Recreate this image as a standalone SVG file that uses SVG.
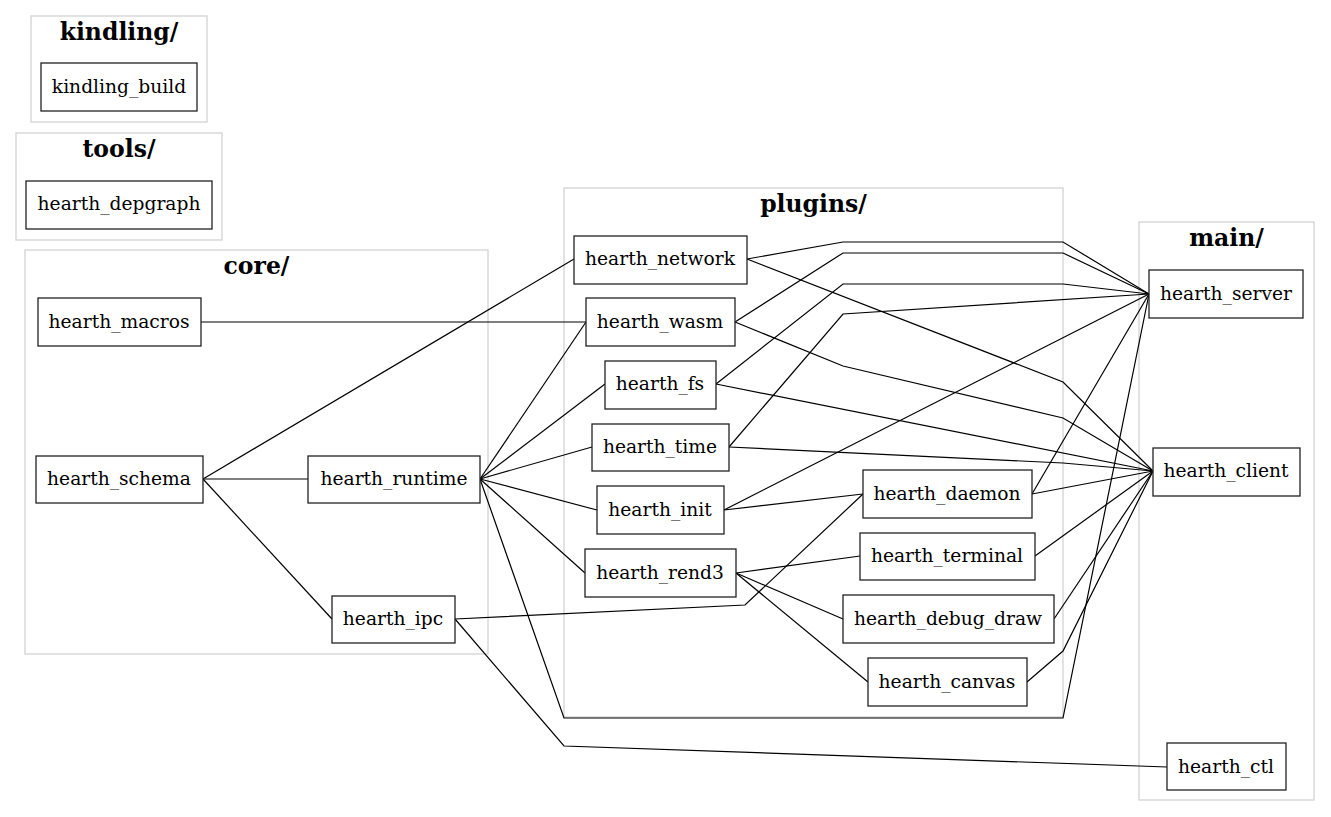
<svg xmlns="http://www.w3.org/2000/svg" width="1331" height="817" viewBox="0 0 1331 817">
<style>
.cluster{fill:none;stroke:#d3d3d3;stroke-width:1.3}
.ctitle{font-family:"DejaVu Serif","Liberation Serif",serif;font-weight:bold;font-size:23.5px;text-anchor:middle;fill:#000}
.node rect{fill:#fff;stroke:#222;stroke-width:1.3}
.node text{font-family:"DejaVu Serif","Liberation Serif",serif;font-size:18.67px;text-anchor:middle;fill:#000}
.edges polyline{fill:none;stroke:#000;stroke-width:1.2}
</style>
<rect width="1331" height="817" fill="#fff"/>
<g id="clusters">
<g id="cluster_kindling"><rect class="cluster" x="31" y="16" width="176" height="106"/><text class="ctitle" x="119" y="40">kindling/</text></g>
<g id="cluster_tools"><rect class="cluster" x="16" y="133" width="206" height="107"/><text class="ctitle" x="119" y="157">tools/</text></g>
<g id="cluster_core"><rect class="cluster" x="25" y="250" width="463" height="404"/><text class="ctitle" x="256.5" y="274">core/</text></g>
<g id="cluster_plugins"><rect class="cluster" x="564" y="188" width="499" height="529"/><text class="ctitle" x="813.5" y="212">plugins/</text></g>
<g id="cluster_main"><rect class="cluster" x="1139" y="222" width="175" height="578"/><text class="ctitle" x="1226.5" y="246">main/</text></g>
</g>
<g class="edges" id="edges">
<polyline points="201,322 586,322"/>
<polyline points="203,479 574,259"/>
<polyline points="203,479 308,479"/>
<polyline points="203,479 332,619"/>
<polyline points="480,479 586,322"/>
<polyline points="480,479 605,384"/>
<polyline points="480,479 592,447"/>
<polyline points="480,479 597,510"/>
<polyline points="480,479 585,573"/>
<polyline points="480,479 564,718 1063,718 1149,294"/>
<polyline points="455,619 564,746 1167,767"/>
<polyline points="455,619 745,605 863,494"/>
<polyline points="747,259 843,242 1063,242 1149,294"/>
<polyline points="747,259 1063,382 1153,471"/>
<polyline points="735,322 843,253 1063,253 1149,294"/>
<polyline points="735,322 843,366 1063,418 1153,471"/>
<polyline points="716,384 843,284 1063,284 1149,294"/>
<polyline points="716,384 1153,471"/>
<polyline points="729,447 843,314 1149,294"/>
<polyline points="729,447 1063,463 1153,471"/>
<polyline points="724,510 1149,294"/>
<polyline points="724,510 863,494"/>
<polyline points="1032,494 1149,294"/>
<polyline points="1032,494 1153,471"/>
<polyline points="1035,556 1153,471"/>
<polyline points="1054,619 1153,471"/>
<polyline points="1027,682 1063,651 1153,471"/>
<polyline points="736,573 860,556"/>
<polyline points="736,573 843,619"/>
<polyline points="736,573 868,682"/>
</g>
<g class="node" id="kindling_build"><rect x="41" y="63" width="156" height="48"/><text x="119" y="93">kindling_build</text></g>
<g class="node" id="hearth_depgraph"><rect x="26" y="181" width="186" height="48"/><text x="119" y="210">hearth_depgraph</text></g>
<g class="node" id="hearth_macros"><rect x="38" y="298" width="163" height="48"/><text x="119" y="328">hearth_macros</text></g>
<g class="node" id="hearth_schema"><rect x="36" y="456" width="167" height="47"/><text x="119" y="485">hearth_schema</text></g>
<g class="node" id="hearth_runtime"><rect x="308" y="456" width="172" height="47"/><text x="394" y="485">hearth_runtime</text></g>
<g class="node" id="hearth_ipc"><rect x="332" y="596" width="123" height="47"/><text x="393" y="625">hearth_ipc</text></g>
<g class="node" id="hearth_network"><rect x="574" y="236" width="173" height="48"/><text x="660" y="265">hearth_network</text></g>
<g class="node" id="hearth_wasm"><rect x="586" y="298" width="149" height="48"/><text x="660" y="328">hearth_wasm</text></g>
<g class="node" id="hearth_fs"><rect x="605" y="361" width="111" height="48"/><text x="660" y="390">hearth_fs</text></g>
<g class="node" id="hearth_time"><rect x="592" y="424" width="137" height="47"/><text x="660" y="453">hearth_time</text></g>
<g class="node" id="hearth_init"><rect x="597" y="486" width="127" height="48"/><text x="660" y="516">hearth_init</text></g>
<g class="node" id="hearth_rend3"><rect x="585" y="549" width="151" height="48"/><text x="660" y="579">hearth_rend3</text></g>
<g class="node" id="hearth_daemon"><rect x="863" y="470" width="169" height="48"/><text x="947" y="500">hearth_daemon</text></g>
<g class="node" id="hearth_terminal"><rect x="860" y="533" width="175" height="47"/><text x="947" y="562">hearth_terminal</text></g>
<g class="node" id="hearth_debug_draw"><rect x="843" y="595" width="211" height="48"/><text x="948" y="625">hearth_debug_draw</text></g>
<g class="node" id="hearth_canvas"><rect x="868" y="658" width="159" height="48"/><text x="947" y="688">hearth_canvas</text></g>
<g class="node" id="hearth_server"><rect x="1149" y="270" width="154" height="48"/><text x="1226" y="300">hearth_server</text></g>
<g class="node" id="hearth_client"><rect x="1153" y="448" width="147" height="48"/><text x="1226" y="477">hearth_client</text></g>
<g class="node" id="hearth_ctl"><rect x="1167" y="743" width="119" height="47"/><text x="1226" y="773">hearth_ctl</text></g>
</svg>
